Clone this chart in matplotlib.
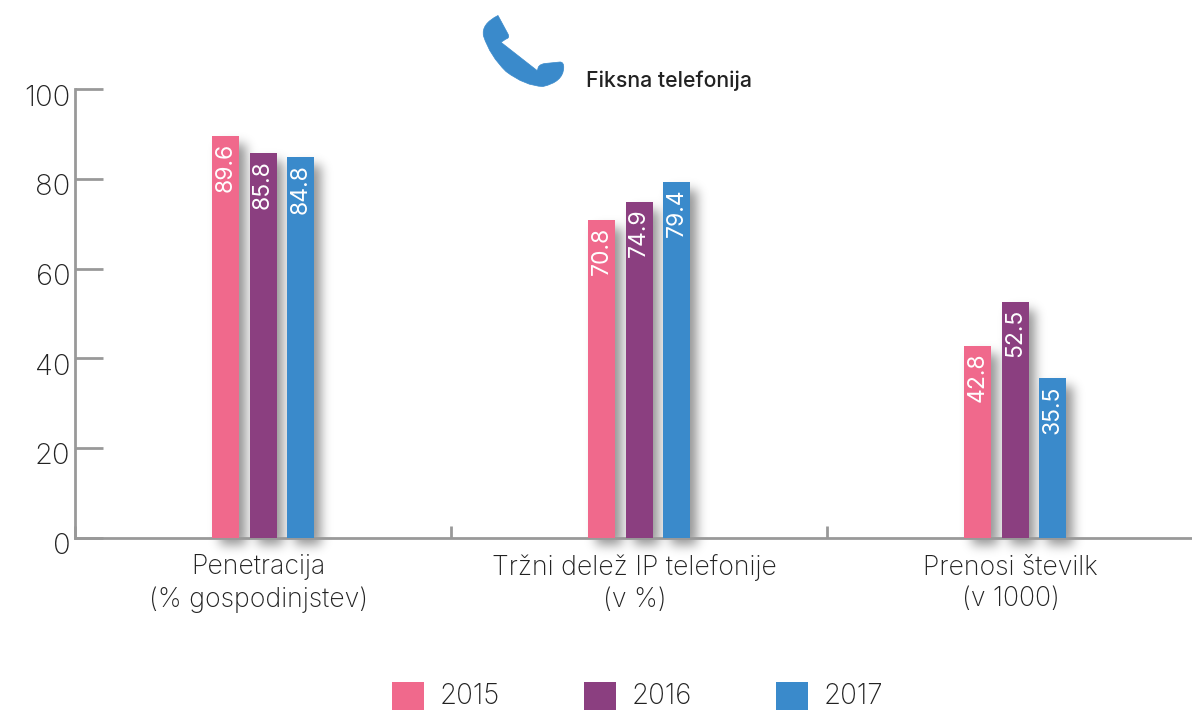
import matplotlib
matplotlib.use("Agg")
from matplotlib import pyplot as plt
from matplotlib.patches import PathPatch, Rectangle
from matplotlib.path import Path
from matplotlib.transforms import Affine2D
import numpy as np

categories = ["Penetracija\n(% gospodinjstev)", "Tržni delež IP telefonije\n(v %)", "Prenosi številk\n(v 1000)"]
years = ["2015", "2016", "2017"]
values_2015 = [89.6, 70.8, 42.8]
values_2016 = [85.8, 74.9, 52.5]
values_2017 = [84.8, 79.4, 35.5]
y_ticks = [0, 20, 40, 60, 80, 100]
title = "Fiksna telefonija"

colors = ["#F0698C", "#8B3F80", "#3A8ACB"]
series = [values_2015, values_2016, values_2017]
font = "Inter"
W, H = 1192, 710
bar_w = 27 / 376
step = 37.6 / 376

fig = plt.figure(figsize=(W / 100, H / 100), dpi=100)
bg = fig.add_axes([0, 0, 1, 1])
bg.axis("off")
ax = fig.add_axes([75 / W, 1 - 537.7 / H, (W - 75) / W, 448.5 / H])
ax.patch.set_alpha(0)
ax.set_xlim(0, (W - 75) / 376)
ax.set_ylim(0, 100)

bars = []
for j, vals in enumerate(series):
    xs = [i + 0.5 + (j - 1) * step for i in range(len(vals))]
    bars.append(ax.bar(xs, vals, bar_w, color=colors[j], linewidth=0, zorder=3))
    for x, v in zip(xs, vals):
        ax.annotate(f"{v}", (x, v), xytext=(0, -5), textcoords="offset points", rotation=90,
                    ha="center", va="top", color="white", fontsize=16.5, family=font, zorder=4)

# blurred shadow from the drawn bars
fig.canvas.draw()
mask = np.zeros((H, W))
for group in bars:
    for b in group:
        e = b.get_window_extent()
        x0, x1 = int(round(e.x0)) + 8, int(round(e.x1)) + 7
        y0, y1 = H - int(round(e.y1)) + 8, H - int(round(e.y0)) + 7
        mask[y0:y1, x0:x1] = 1
sigma = 5.5
kx = np.arange(-18, 19)
kernel = np.exp(-kx ** 2 / (2 * sigma ** 2))
kernel /= kernel.sum()
mask = np.apply_along_axis(lambda r: np.convolve(r, kernel, mode="same"), 0, mask)
mask = np.apply_along_axis(lambda r: np.convolve(r, kernel, mode="same"), 1, mask)
shadow = np.zeros((H, W, 4))
shadow[..., 3] = mask * 0.42
bg.imshow(shadow, extent=(0, W, H, 0), aspect="auto", interpolation="nearest")

for s in ["top", "right"]:
    ax.spines[s].set_visible(False)
for s in ["left", "bottom"]:
    ax.spines[s].set_color("#999999")
    ax.spines[s].set_linewidth(2)

ax.set_yticks(y_ticks)
ax.set_yticklabels([str(t) for t in y_ticks], fontsize=21, family=font, weight="light", color="#222222")
ax.tick_params(axis="y", direction="in", length=20, width=2, color="#999999", pad=3.5)
for lab in ax.get_yticklabels():
    lab.set_transform(lab.get_transform() + Affine2D().translate(0, -6))

ax.set_xticks([0, 1, 2])
ax.set_xticklabels([])
ax.tick_params(axis="x", direction="in", length=9, width=2, color="#999999")
for i, c in enumerate(categories):
    ax.annotate(c, (i + 0.5, 0), xytext=(-3, -12), textcoords="offset points", ha="center", va="top",
                fontsize=19.2, family=font, weight="light", color="#222222", linespacing=1.3, annotation_clip=False)

px = Affine2D().scale(1 / W, -1 / H).translate(0, 1) + fig.transFigure

# phone icon, outline in pixels
phone = [(498, 15.5), (508, 34), (510, 38), (506, 39), (501, 42.3), (537.7, 71), (537, 64.5), (545, 63.5),
         (560, 62), (564, 62), (563.7, 68), (563, 82), (543, 86.5), (525, 86), (506, 71.5), (490, 56),
         (483.5, 36), (481, 24), (498, 15.5), (498, 15.5)]
C = Path.CURVE3
L = Path.LINETO
codes = [Path.MOVETO, L, C, C, L, L, C, C, L, C, C, C, C, C, C, C, C, C, C, Path.CLOSEPOLY]
fig.add_artist(PathPatch(Path(phone, codes), facecolor=colors[2], edgecolor=colors[2], linewidth=0.5, transform=px))
fig.text(586 / W, 1 - 81 / H, title, fontsize=15.3, family=font, weight="medium", color="#222222", va="center")

for k, (y, x0) in enumerate(zip(years, [392, 584, 776])):
    fig.add_artist(Rectangle((x0, 682), 32, 28, facecolor=colors[k], linewidth=0, transform=px))
    fig.text((x0 + 48) / W, 1 - 696 / H, y, fontsize=20, family=font, weight="light", color="#222222", va="center")

fig.savefig("out.png", dpi=100)
